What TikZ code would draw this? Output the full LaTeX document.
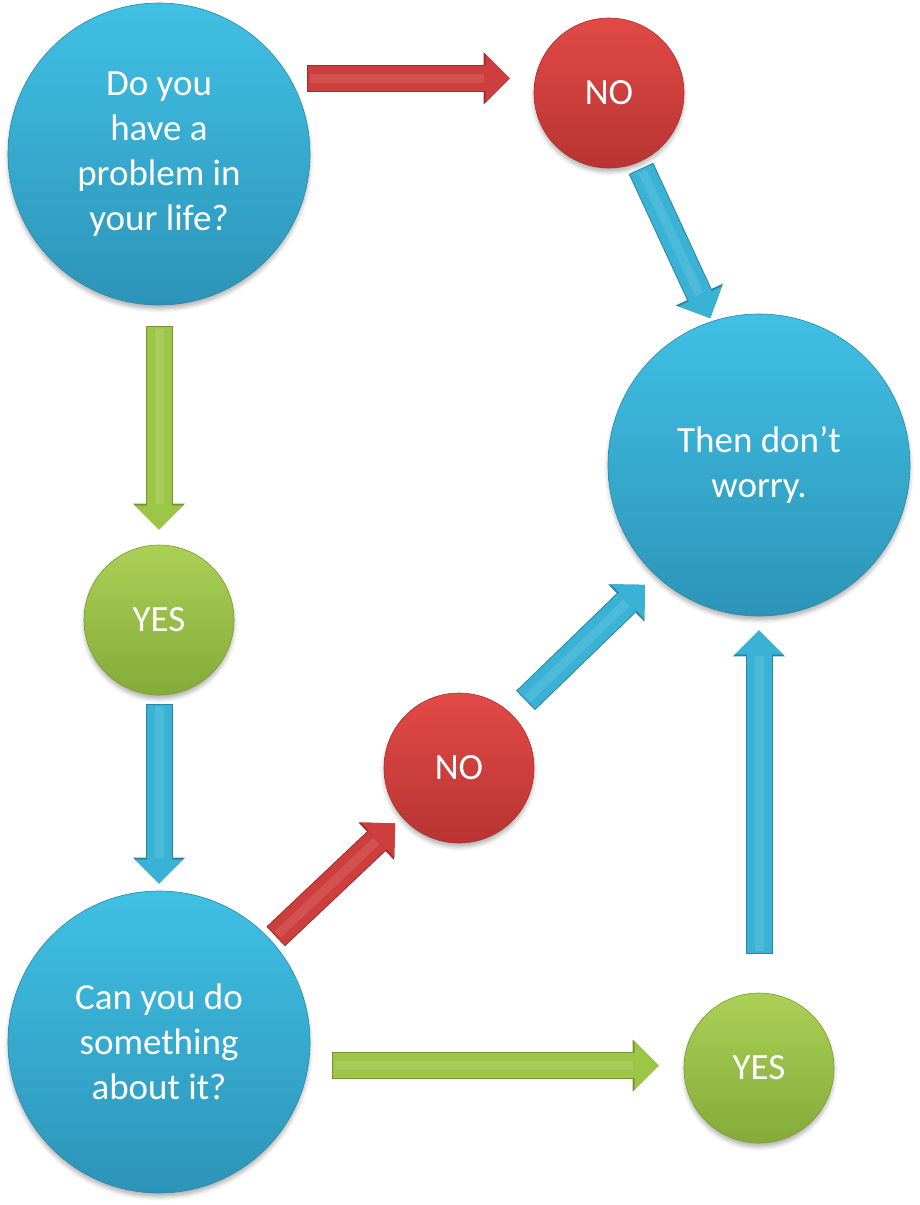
\documentclass[tikz,border=0pt]{standalone}
\usepackage{fontspec}
\setmainfont{Carlito}
\usepackage{tikz}
\usetikzlibrary{arrows.meta,calc,shadows.blur}
\definecolor{blueTop}{RGB}{64,192,228}
\definecolor{blueBot}{RGB}{44,148,184}
\definecolor{redTop}{RGB}{226,74,70}
\definecolor{redBot}{RGB}{184,52,50}
\definecolor{greenTop}{RGB}{172,208,86}
\definecolor{greenBot}{RGB}{132,170,56}
\definecolor{blueA}{RGB}{58,178,214}
\definecolor{redA}{RGB}{206,62,60}
\definecolor{greenA}{RGB}{158,198,70}
\tikzstyle{bubble}=[circle,inner sep=0pt,text=white,align=center,font=\fontsize{37}{45}\selectfont,
  blur shadow={shadow xshift=0pt,shadow yshift=-4pt,shadow blur radius=4pt,shadow opacity=30}]
\tikzstyle{big}=[bubble,minimum size=302pt]
\tikzstyle{small}=[bubble,minimum size=150pt]
\tikzstyle{bluefill}=[top color=blueTop,bottom color=blueBot,draw=blueBot!92!black,line width=0.6pt]
\tikzstyle{redfill}=[top color=redTop,bottom color=redBot,draw=redBot!92!black,line width=0.6pt]
\tikzstyle{greenfill}=[top color=greenTop,bottom color=greenBot,draw=greenBot!92!black,line width=0.6pt]
\tikzstyle{blockarrow}=[line width=25pt,-{Triangle[width=48pt,length=24pt,line width=0pt]}]
\tikzstyle{rim}=[line width=27pt,-{Triangle[width=52pt,length=26pt,line width=0pt]},shorten <=-1pt]
\tikzstyle{shine}=[line width=9pt,-,shorten >=26pt,shorten <=2pt]
\tikzstyle{redarrow}=[blockarrow,draw=redA,preaction={rim,draw=redA!75!black},postaction={shine,draw=redA!90!white}]
\tikzstyle{bluearrow}=[blockarrow,draw=blueA,preaction={rim,draw=blueA!75!black},postaction={shine,draw=blueA!90!white}]
\tikzstyle{greenarrow}=[blockarrow,draw=greenA,preaction={rim,draw=greenA!75!black},postaction={shine,draw=greenA!90!white}]

\begin{document}
\begin{tikzpicture}[x=1pt,y=-1pt]
    \useasboundingbox (0,0) rectangle (919,1205);
    % The three big questions
    \foreach \pos/\name/\txt in {{(159,154)/q1/{Do you\\have a\\problem in\\your life?}},
                                 {(759,465)/ok/{Then don’t\\worry.}},
                                 {(159,1042)/q2/{Can you do\\something\\about it?}}}
        \node[big,bluefill] (\name) at \pos {\txt};
    % The answers
    \foreach \pos/\name/\txt/\look in {{(609,93)/no1/NO/redfill}, {(159,620)/yes1/YES/greenfill},
                                      {(459,768)/no2/NO/redfill}, {(759,1068)/yes2/YES/greenfill}}
        \node[small,\look] (\name) at \pos {\txt};
    % Ends of the block arrows
    \coordinate (t1) at ($(q1.30)+(18,0)$);
    \coordinate (h1) at ($(q1.30 -| no1.west)+(-24,0)$);
    \coordinate (t2) at ($(no1.-67)+(3,7)$);
    \coordinate (h2) at ($(ok.108)+(-2,-3)$);
    \coordinate (t3) at ($(q1.south)+(0,22)$);
    \coordinate (h3) at ($(yes1.north)+(0,-15)$);
    \coordinate (t4) at ($(yes1.south)+(0,10)$);
    \coordinate (h4) at ($(q2.north)+(0,-7)$);
    \coordinate (t5) at ($(q2.42)+(5,-5)$);
    \coordinate (h5) at ($(no2.221)+(-7,6)$);
    \coordinate (t6) at ($(no2.45)+(14,-15)$);
    \coordinate (h6) at ($(ok.226)+(-9,11)$);
    \coordinate (t7) at ($(q2.-9.5)+(25,0)$);
    \coordinate (h7) at ($(q2.-9.5 -| yes2.west)+(-25,0)$);
    \coordinate (t8) at ($(yes2.north)+(0,-40)$);
    \coordinate (h8) at ($(ok.south)+(0,14)$);
    % Connect answers with arrows
    \foreach \source/\dest/\kind in {t1/h1/redarrow, t2/h2/bluearrow, t3/h3/greenarrow, t4/h4/bluearrow,
                                     t5/h5/redarrow, t6/h6/bluearrow, t7/h7/greenarrow, t8/h8/bluearrow}
        \draw[\kind] (\source) -- (\dest);
\end{tikzpicture}
\end{document}
